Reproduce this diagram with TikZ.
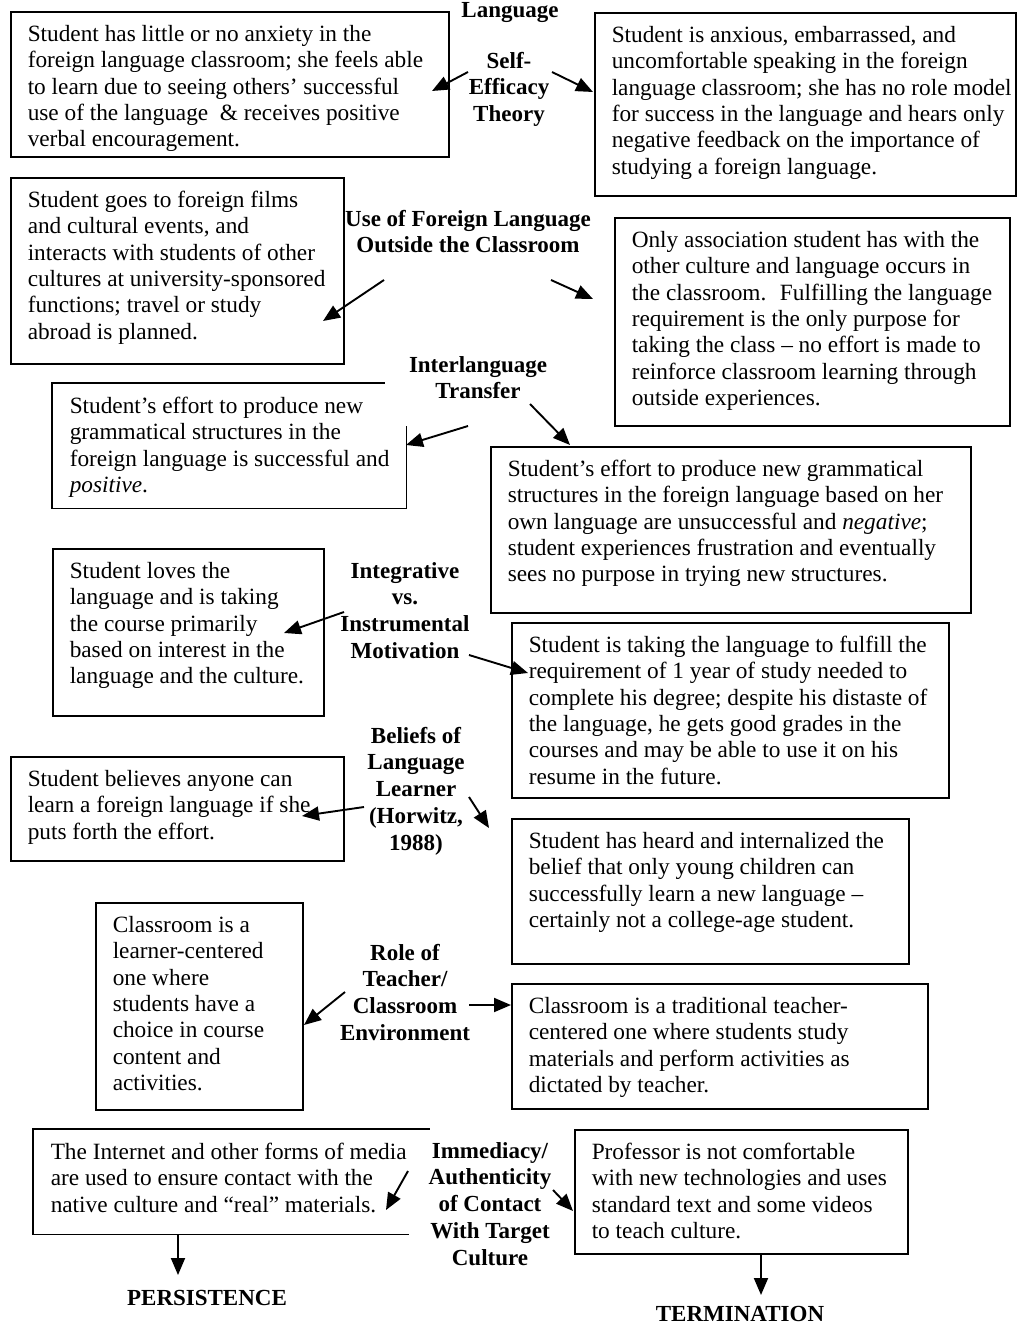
\documentclass[tikz,border=0pt]{standalone}
\usepackage{fontspec}
\setmainfont{Liberation Serif}
\usetikzlibrary{arrows.meta}
\newcommand\boxtxt[3]{\parbox[t][#2pt][t]{#1pt}{\begin{tabular}[t]{@{}l@{}}#3\end{tabular}}}
\newcommand\labtxt[1]{\begin{tabular}[t]{@{}c@{}}#1\end{tabular}}
\tikzset{
  boxnode/.style={draw=black, line width=1.5pt, inner xsep=17pt, inner ysep=11pt, anchor=north west,
    font=\fontsize{23.3}{26.4}\selectfont},
  openbox/.style={boxnode, draw=none},
  border/.style={draw=black, line width=1.5pt},
  lab/.style={inner sep=0pt, anchor=base, font=\fontsize{23}{26.8}\selectfont\bfseries},
  arr/.style={line width=1.9pt, -{Triangle[length=17pt,width=14pt]}}
}
\begin{document}
\begin{tikzpicture}[x=1pt,y=-1pt]
\fill[white] (0,0) rectangle (1019,1325);
\useasboundingbox (0,0) rectangle (1019,1325);

% ---------- boxes ----------
\node[boxnode] (L1) at (10,11) {\boxtxt{404}{123}{Student has little or no anxiety in the\\foreign language classroom; she feels able\\to learn due to seeing others’ successful\\use of the language~ \& receives positive\\verbal encouragement.}};
\node[boxnode] (R1) at (594,12) {\boxtxt{387}{161}{Student is anxious, embarrassed, and\\uncomfortable speaking in the foreign\\language classroom; she has no role model\\for success in the language and hears only\\negative feedback on the importance of\\studying a foreign language.}};
\node[boxnode] (L2) at (10,177) {\boxtxt{299}{164}{Student goes to foreign films\\and cultural events, and\\interacts with students of other\\cultures at university-sponsored\\functions; travel or study\\abroad is planned.}};
\node[boxnode] (R2) at (614,217) {\boxtxt{361}{186}{Only association student has with the\\other culture and language occurs in\\the classroom.~ Fulfilling the language\\requirement is the only purpose for\\taking the class – no effort is made to\\reinforce classroom learning through\\outside experiences.}};
\node[openbox] (L3) at (52,383) {\boxtxt{319}{102}{Student’s effort to produce new\\grammatical structures in the\\foreign language is successful and\\\textit{positive}.}};
\draw[border] ([xshift=-22pt]L3.north east) -- (L3.north west) -- (L3.south west) -- (L3.south east) -- ([yshift=-43pt]L3.north east);
\node[boxnode] (R3) at (490,446) {\boxtxt{446}{144}{Student’s effort to produce new grammatical\\structures in the foreign language based on her\\own language are unsuccessful and \textit{negative};\\student experiences frustration and eventually\\sees no purpose in trying new structures.}};
\node[boxnode] (L4) at (52,548) {\boxtxt{237}{145}{Student loves the\\language and is taking\\the course primarily\\based on interest in the\\language and the culture.}};
\node[boxnode] (R4) at (511,622) {\boxtxt{403}{153}{Student is taking the language to fulfill the\\requirement of 1 year of study needed to\\complete his degree; despite his distaste of\\the language, he gets good grades in the\\courses and may be able to use it on his\\resume in the future.}};
\node[boxnode] (L5) at (10,756) {\boxtxt{299}{82}{Student believes anyone can\\learn a foreign language if she\\puts forth the effort.}};
\node[boxnode] (R5) at (511,818) {\boxtxt{363}{123}{Student has heard and internalized the\\belief that only young children can\\successfully learn a new language –\\certainly not a college-age student.}};
\node[boxnode] (L6) at (95,902) {\boxtxt{173}{185}{Classroom is a\\learner-centered\\one where\\students have a\\choice in course\\content and\\activities.}};
\node[boxnode] (R6) at (511,983) {\boxtxt{382}{103}{Classroom is a traditional teacher-\\centered one where students study\\materials and perform activities as\\dictated by teacher.}};
\node[openbox] (L7) at (33,1129) {\boxtxt{361}{82}{The Internet and other forms of media\\are used to ensure contact with the\\native culture and “real” materials.}};
\draw[border] (L7.north east) -- (L7.north west) -- (L7.south west) -- ([xshift=-21pt]L7.south east);
\node[boxnode] (R7) at (574,1129) {\boxtxt{299}{102}{Professor is not comfortable\\with new technologies and uses\\standard text and some videos\\to teach culture.}};

% ---------- labels ----------
\node[lab] (T0) at (510,17) {Language};
\node[lab] (T1) at (509,68) {\labtxt{Self-\\Efficacy\\Theory}};
\node[lab] (T2) at (468,226) {\labtxt{Use of Foreign Language\\Outside the Classroom}};
\node[lab] (T3) at (478,372) {\labtxt{Interlanguage\\Transfer}};
\node[lab] (T4) at (405,578) {\labtxt{Integrative\\vs.\\Instrumental\\Motivation}};
\node[lab] (T5) at (416,743) {\labtxt{Beliefs of\\Language\\Learner\\(Horwitz,\\1988)}};
\node[lab] (T6) at (405,960) {\labtxt{Role of\\Teacher/\\Classroom\\Environment}};
\node[lab] (T7) at (490,1158) {\labtxt{Immediacy/\\Authenticity\\of Contact\\With Target\\Culture}};
\node[lab] (PER) at (207,1305) {PERSISTENCE};
\node[lab] (TER) at (740,1321) {TERMINATION};

% ---------- arrow ends ----------
\coordinate (a1l) at (468,72);  \coordinate (h1l) at (432,91);
\coordinate (a1r) at (552,72);  \coordinate (h1r) at (593,92);
\coordinate (a2l) at (384,280); \coordinate (h2l) at (323,321);
\coordinate (a2r) at (551,280); \coordinate (h2r) at (593,299);
\coordinate (a3l) at (468,426); \coordinate (h3l) at (406,445);
\coordinate (a3r) at (530,404); \coordinate (h3r) at (570,445);
\coordinate (a4l) at (344,612); \coordinate (h4l) at (284,633);
\coordinate (a4r) at (469,655); \coordinate (h4r) at (528,673);
\coordinate (a5l) at (364,807); \coordinate (h5l) at (302,816);
\coordinate (a5r) at (469,797); \coordinate (h5r) at (489,828);
\coordinate (a6l) at (345,992); \coordinate (h6l) at (304,1025);
\coordinate (a6r) at (469,1005); \coordinate (h6r) at (511,1005);
\coordinate (a7l) at (408,1171); \coordinate (h7l) at (386,1210);
\coordinate (a7r) at (553,1190); \coordinate (h7r) at (573,1211);
\coordinate (dpl) at (178,1275);
\coordinate (dtr) at (761,1295);

\draw[arr] (a1l) -- (h1l);
\draw[arr] (a1r) -- (h1r);
\draw[arr] (a2l) -- (h2l);
\draw[arr] (a2r) -- (h2r);
\draw[arr] (a3l) -- (h3l);
\draw[arr] (a3r) -- (h3r);
\draw[arr] (a4l) -- (h4l);
\draw[arr] (a4r) -- (h4r);
\draw[arr] (a5l) -- (h5l);
\draw[arr] (a5r) -- (h5r);
\draw[arr] (a6l) -- (h6l);
\draw[arr] (a6r) -- (h6r);
\draw[arr] (a7l) -- (h7l);
\draw[arr] (a7r) -- (h7r);
\draw[arr] (L7.south west -| dpl) -- (dpl);
\draw[arr] (R7.south -| dtr) -- (dtr);
\end{tikzpicture}
\end{document}
